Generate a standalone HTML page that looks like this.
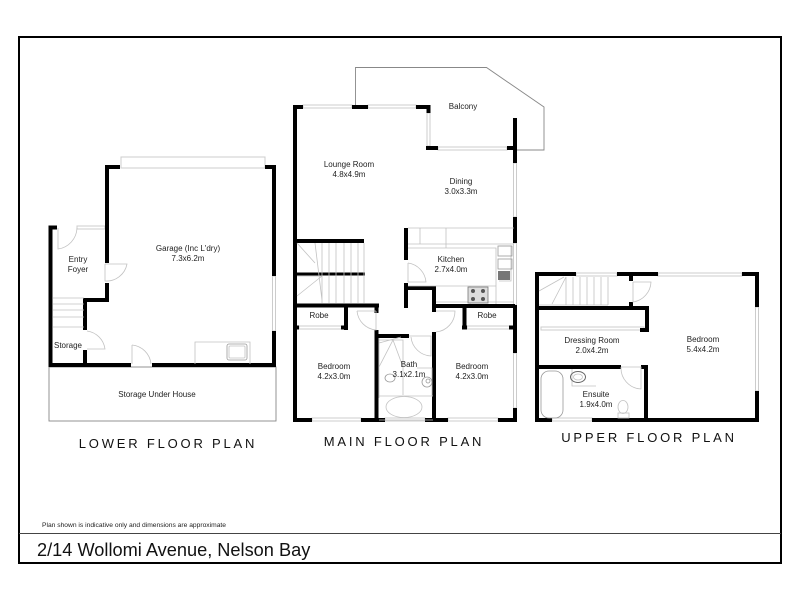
<!DOCTYPE html>
<html><head><meta charset="utf-8"><style>
html,body{margin:0;padding:0;background:#fff}
svg{display:block;filter:blur(.3px)}
text{font-family:"Liberation Sans",sans-serif;fill:#222;font-size:8px;text-anchor:middle}
.w{stroke:#000;stroke-width:4;fill:none}
.g{stroke:#999;stroke-width:.8;fill:none}
.l{stroke:#c2c2c2;stroke-width:.8;fill:none}
.win{stroke:#ccc;stroke-width:1;fill:#fff}
.t{font-size:13px;letter-spacing:2.8px;fill:#111}
</style></head><body>
<svg width="800" height="600" viewBox="0 0 800 600" xmlns="http://www.w3.org/2000/svg">
<rect width="800" height="600" fill="#fff"/>
<rect x="19" y="37" width="762" height="526" fill="none" stroke="#000" stroke-width="2"/>
<path d="M19 533.5H781" stroke="#444" stroke-width="1"/>

<!-- LOWER -->
<rect x="49" y="367" width="227" height="54" fill="#fff" stroke="#888" stroke-width=".9"/>
<rect x="121" y="157" width="144" height="11" class="win"/>
<rect x="272.500" y="276" width="3" height="55" class="win"/>
<rect x="77" y="226" width="28" height="3" class="win"/>
<path class="w" d="M57 227.500H50.500V365H131M152 365H274V331M274 276V167H265M120 167H107V263M107 283V300H85V330M85 350V365"/>
<path class="l" d="M58 228V249A22 22 0 0 0 77 228M105 264H127A21 21 0 0 1 105 281V264M87 331A21 21 0 0 1 105 349H87M132 345V364M132 345A21 21 0 0 1 151 364M53 298H84M53 304H84M53 310H84M53 317H84M53 327H84M195 364V342H250V364"/>
<rect x="227" y="344" width="20" height="16" rx="2" class="g" stroke-width="1.2"/>
<rect x="229" y="346" width="16" height="12" rx="1" class="l"/>

<!-- MAIN -->
<path d="M355.500 105V67.500H486.500L544 107V150H515" fill="none" stroke="#888" stroke-width=".9"/>
<rect x="303" y="105" width="49" height="3" class="win"/>
<rect x="368" y="105" width="48" height="3" class="win"/>
<rect x="427" y="113" width="3" height="33" class="win"/>
<rect x="438" y="147" width="69" height="3" class="win"/>
<rect x="513.500" y="163" width="3" height="54" class="win"/>
<rect x="513.500" y="243" width="3" height="62" class="win"/>
<rect x="513.500" y="353" width="3" height="55" class="win"/>
<rect x="312" y="418" width="49" height="3" class="win"/>
<rect x="385" y="418" width="40" height="3" class="win"/>
<rect x="448" y="418" width="50" height="3" class="win"/>
<rect x="299" y="326" width="45" height="3" class="win"/>
<rect x="467" y="326" width="44" height="3" class="win"/>
<path class="w" d="M303 107H295V420H312M352 107H368M416 107H428.500V113M426 148H438M507 148H515M515 118V163M515 217V243M515 305V353M515 408V420H498M448 420H425M385 420H361M297 241H364M297 305.500H379M346 305V330M376.500 305V313M376.500 330V420M376.500 336H409M434 332V420M434 288V312M406 228V260M406 283V308M406 288H436M434 306H515M464.500 306V328M462 327.500H467M295 327.500H299M509 327.500H515"/>
<path d="M297 274H365" stroke="#000" stroke-width="3"/>
<path d="M341 327.500H348" stroke="#000" stroke-width="4"/>
<path class="l" d="M297 243L315 263M315 243L322 300M322 243V303M329 243V303M336 243V303M344 243V303M351 243V303M358 243V303M364 243V303M297 276H322M297 296L322 276M408 228H514M420 228V244M446 228V248M408 244H514M408 248H496V286H408M408 263A21 21 0 0 1 426 282H408V263M436 286H470V304M470 286H496V304M436 302H514M499 246H511V281H499M357 311H376M357 311A21 21 0 0 0 376 330V311M436 311H455A21 21 0 0 1 436 332M409 336H431V340M411 337A21 21 0 0 0 431 356V337M379 338V398M379 340H403V395M379 343L401 337M379 367L393 340L403 367M379 396H433M417 368H432V396M379 420H433"/>
<ellipse cx="404" cy="407" rx="18" ry="10.500" class="l"/>
<ellipse cx="390" cy="378" rx="5" ry="4" class="g"/>
<circle cx="427" cy="382" r="5" class="g"/>
<circle cx="428" cy="381" r="2" class="g"/>
<rect x="498" y="246" width="14" height="10" class="g"/>
<rect x="498" y="259" width="14" height="10" class="g"/>
<path d="M498 271h12v9h-12z" fill="#777"/>
<rect x="468" y="287" width="20" height="16" fill="#ddd" stroke="#777" stroke-width=".8"/>
<circle cx="473" cy="291" r="2" fill="#555"/><circle cx="483" cy="291" r="2" fill="#555"/><circle cx="473" cy="299" r="2" fill="#555"/><circle cx="483" cy="299" r="2" fill="#555"/>

<!-- UPPER -->
<rect x="576" y="273" width="41" height="3" class="win"/>
<rect x="658" y="273" width="84" height="3" class="win"/>
<rect x="755.500" y="307" width="3" height="84" class="win"/>
<rect x="552" y="418" width="40" height="3" class="win"/>
<rect x="541" y="327" width="103" height="3" class="win"/>
<path class="w" d="M576 274H537V420H552M592 420H757V391M757 307V274H742M658 274H617M631 276V281M631 302V308M537 308H647V330H640M537 367H621M641 367H646V420"/>
<path class="l" d="M539 291L564 277M566 277L552 304M566 277V305M573 277V305M580 277V305M587 277V305M594 277V305M601 277V305M608 277V305M539 305H608M633 282H651A21 21 0 0 1 633 302V282M621 367H641V389A21 21 0 0 1 621 367M572 369V386H596"/>
<rect x="541" y="371" width="22" height="47" rx="8" class="g"/>
<ellipse cx="578" cy="377" rx="7.500" ry="5.500" stroke="#666" stroke-width="1" fill="none"/>
<ellipse cx="578" cy="377" rx="4.500" ry="3" class="l"/>
<ellipse cx="623" cy="407" rx="5" ry="6.500" class="l"/>
<rect x="618" y="413" width="11" height="5" class="l"/>

<!-- LABELS -->
<text x="188" y="251">Garage (Inc L'dry)</text><text x="188" y="261">7.3x6.2m</text>
<text x="78" y="262">Entry</text><text x="78" y="272">Foyer</text>
<text x="68" y="348">Storage</text>
<text x="157" y="397">Storage Under House</text>
<text x="463" y="109">Balcony</text>
<text x="349" y="167">Lounge Room</text><text x="349" y="177">4.8x4.9m</text>
<text x="461" y="184">Dining</text><text x="461" y="194">3.0x3.3m</text>
<text x="451" y="262">Kitchen</text><text x="451" y="272">2.7x4.0m</text>
<text x="319" y="318">Robe</text><text x="487" y="318">Robe</text>
<text x="334" y="369">Bedroom</text><text x="334" y="379">4.2x3.0m</text>
<text x="409" y="367">Bath</text><text x="409" y="377">3.1x2.1m</text>
<text x="472" y="369">Bedroom</text><text x="472" y="379">4.2x3.0m</text>
<text x="592" y="343">Dressing Room</text><text x="592" y="353">2.0x4.2m</text>
<text x="703" y="342">Bedroom</text><text x="703" y="352">5.4x4.2m</text>
<text x="596" y="397">Ensuite</text><text x="596" y="407">1.9x4.0m</text>
<text class="t" x="168" y="448">LOWER FLOOR PLAN</text>
<text class="t" x="404" y="446">MAIN FLOOR PLAN</text>
<text class="t" x="649" y="442">UPPER FLOOR PLAN</text>
<text x="42" y="527" style="text-anchor:start;font-size:6.7px">Plan shown is indicative only and dimensions are approximate</text>
<text x="37" y="556" style="text-anchor:start;font-size:18.2px;fill:#111">2/14 Wollomi Avenue, Nelson Bay</text>
</svg>
</body></html>
